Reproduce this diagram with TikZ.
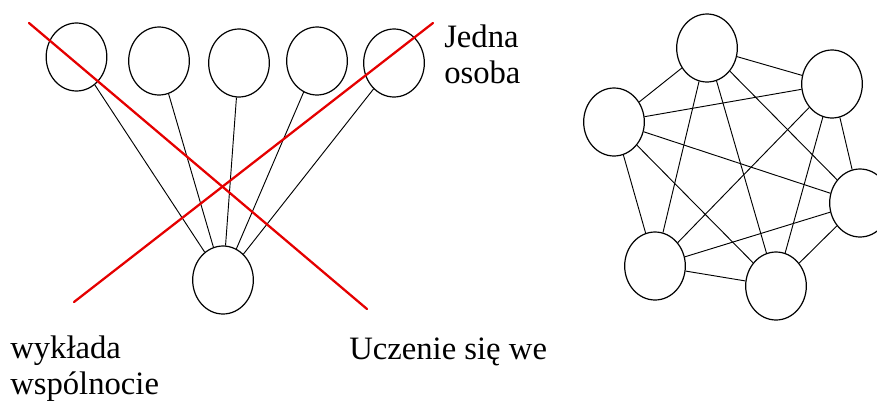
\documentclass[tikz,border=0pt]{standalone}
\usepackage{fontspec}
\setmainfont{Liberation Serif}
\usetikzlibrary{positioning,shapes}

\begin{document}
\begin{tikzpicture}[x=0.75pt,y=-0.75pt,
    osoba/.style={ellipse, draw=black, line width=0.9pt, minimum width=45.5pt, minimum height=51pt, inner sep=0pt},
    link/.style={draw=black, line width=0.7pt},
    cross/.style={draw=red!90!black, line width=1.7pt, line cap=round},
    opis/.style={anchor=base west, inner sep=0pt, align=left, font=\fontsize{24.5}{27}\selectfont}]
  \useasboundingbox (0,0) rectangle (877,400);
  % wyklad: jedna osoba i sluchacze
  \node[osoba] (s1) at (76.5,57) {};
  \node[osoba] (s2) at (159,61) {};
  \node[osoba] (s3) at (239,63) {};
  \node[osoba] (s4) at (317,61) {};
  \node[osoba] (s5) at (394,63) {};
  \node[osoba] (w)  at (223,280) {};
  \foreach \i in {1,...,5}
    \draw[link] (s\i) -- (w);
  % przekreslenie
  \coordinate (x1) at (29,23);
  \coordinate (x2) at (367,309);
  \coordinate (x3) at (74,302);
  \coordinate (x4) at (433,23);
  \draw[cross] (x1) -- (x2);
  \draw[cross] (x3) -- (x4);
  % wspolnota
  \node[osoba] (g1) at (707,48) {};
  \node[osoba] (g2) at (832,84) {};
  \node[osoba] (g3) at (860,203) {};
  \node[osoba] (g4) at (776,286) {};
  \node[osoba] (g5) at (655,266) {};
  \node[osoba] (g6) at (614,122) {};
  \foreach \i in {1,...,5}{
    \pgfmathtruncatemacro\k{\i+1}
    \foreach \j in {\k,...,6}
      \draw[link] (g\i) -- (g\j);
  }
  % opisy (base = linia bazowa ostatniego wiersza)
  \node[opis] (jedna)   at (444,83)  {Jedna\\osoba};
  \node[opis] (wyklada) at (10,394)  {wykłada\\wspólnocie};
  \node[opis] (uczenie) at (349,359) {Uczenie się we};
\end{tikzpicture}
\end{document}
